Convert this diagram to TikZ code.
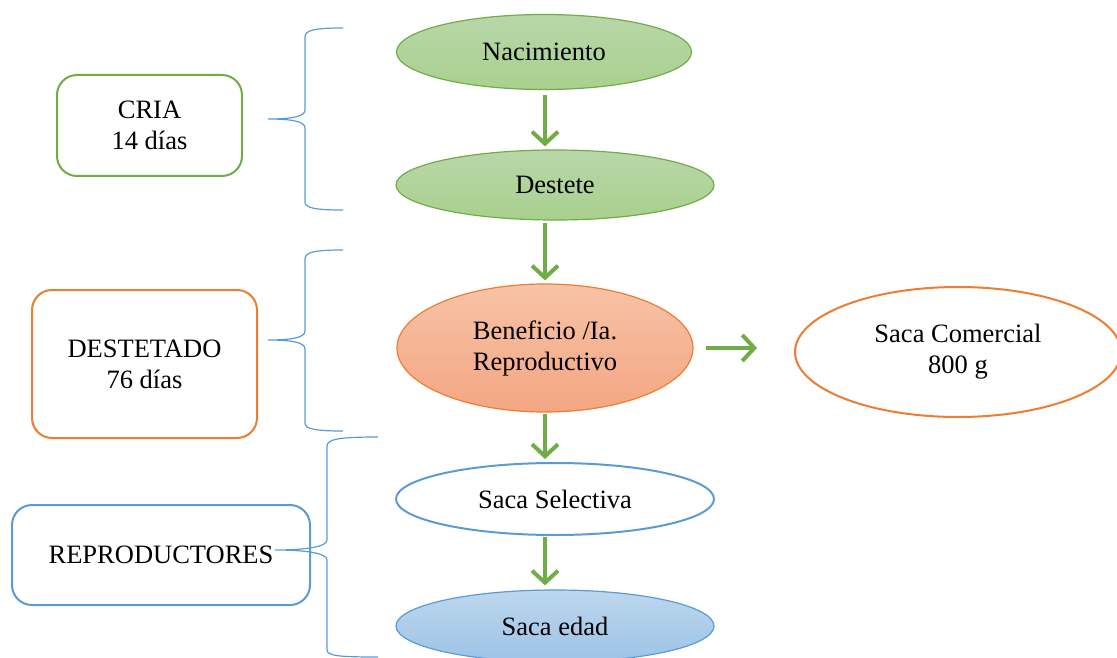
\documentclass[tikz,border=0pt]{standalone}
\usepackage{fontspec}
\setmainfont{Liberation Serif}
\usetikzlibrary{calc, positioning}
\usetikzlibrary{arrows.meta}
\usetikzlibrary{shapes.geometric}

\definecolor{verde}{HTML}{70AD47}
\definecolor{verdeA}{HTML}{B8D7A9}
\definecolor{verdeB}{HTML}{A9D08E}
\definecolor{naranja}{HTML}{ED7D31}
\definecolor{naranjaA}{HTML}{F7C3A6}
\definecolor{naranjaB}{HTML}{F4A683}
\definecolor{azul}{HTML}{5B9BD5}
\definecolor{azulA}{HTML}{BDD7EE}
\definecolor{azulB}{HTML}{9DC3E6}

\begin{document}
\begin{tikzpicture}[x=1pt, y=-1pt,
  every node/.style={font=\fontsize{26.5}{31}\selectfont, align=center},
  elipse/.style={ellipse, inner sep=0pt, line width=1.2pt},
  caja/.style={rectangle, rounded corners=20pt, line width=2pt, inner sep=0pt},
  flecha/.style={draw=verde, line width=4pt, -{Straight Barb[length=12pt, width=26pt]}},
  llave/.style={draw=azul, line width=1.2pt}]
\useasboundingbox (0,0) rectangle (1117,658);

\node[elipse, draw=verde, top color=verdeA, bottom color=verdeB,
  minimum width=295, minimum height=75] (nac) at (544,52) {Nacimiento};
\node[elipse, draw=verde, top color=verdeA, bottom color=verdeB,
  minimum width=318, minimum height=70] (des) at (555,185) {Destete};
\node[elipse, draw=naranja, top color=naranjaA, bottom color=naranjaB,
  minimum width=296, minimum height=128] (ben) at (545,348) {Beneficio /Ia.\\Reproductivo};
\node[elipse, draw=naranja, line width=2pt, fill=white,
  minimum width=326, minimum height=130] (com) at (958,352) {Saca Comercial\\800 g};
\node[elipse, draw=azul, line width=2pt, fill=white,
  minimum width=318, minimum height=72] (sel) at (555,499) {Saca Selectiva};
\node[elipse, draw=azul, top color=azulA, bottom color=azulB,
  minimum width=318, minimum height=72] (eda) at (555,626) {Saca edad};

\node[caja, draw=verde, minimum width=185, minimum height=101] (cria) at (149.5,125.5) {CRIA\\14 días};
\node[caja, draw=naranja, minimum width=225, minimum height=148] (dtdo) at (144.5,364) {DESTETADO\\76 días};
\node[caja, draw=azul, minimum width=298, minimum height=100] (repro) at (161,555) {REPRODUCTORES};

\draw[flecha, shorten <=5pt, shorten >=3pt] (nac.south -| ben.south) -- (des.north -| ben.south);
\draw[flecha, shorten <=2pt, shorten >=3pt] (des.south -| ben.south) -- (ben.north);
\draw[flecha, shorten <=1pt, shorten >=3pt] (ben.south) -- (sel.north -| ben.south);
\draw[flecha, shorten <=1pt, shorten >=4pt] (sel.south -| ben.south) -- (eda.north -| ben.south);
\draw[flecha, shorten <=12pt, shorten >=37pt] (ben.east) -- (com.west |- ben.east);

\draw[llave] (343,28) .. controls (315,28) and (305,30) .. (305,37) -- (305,110)
  .. controls (305,117) and (290,119) .. (268,119) .. controls (290,119) and (305,121) .. (305,128)
  -- (305,202) .. controls (305,208) and (315,210) .. (343,210);
\draw[llave] (343,250) .. controls (315,250) and (305,252) .. (305,259) -- (305,331)
  .. controls (305,338) and (290,340) .. (268,340) .. controls (290,340) and (305,342) .. (305,349)
  -- (305,423) .. controls (305,429) and (315,431) .. (343,431);
\draw[llave] (378,437) .. controls (340,437) and (327,439) .. (327,446) -- (327,540)
  .. controls (327,547) and (305,550) .. (275,550) .. controls (305,550) and (327,553) .. (327,560)
  -- (327,650) .. controls (327,656) and (340,657) .. (378,657);
\end{tikzpicture}
\end{document}
